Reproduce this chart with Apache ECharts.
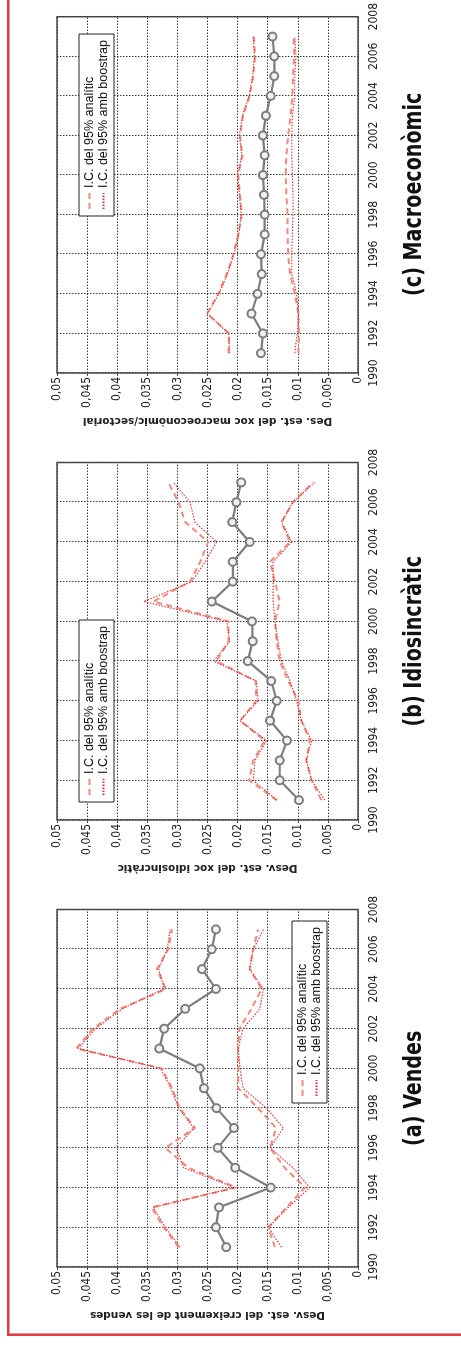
<!DOCTYPE html>
<html>
<head>
<meta charset="utf-8">
<script src="https://cdn.jsdelivr.net/npm/echarts@6/dist/echarts.min.js"></script>
<style>
  html, body { margin: 0; padding: 0; background: #fff; overflow: hidden; }
  #page { position: relative; width: 461px; height: 1345px; overflow: hidden; }
  /* the three panels are laid out in landscape and turned a quarter turn */
  #chart {
    position: absolute; left: 0; top: 0;
    width: 1345px; height: 461px;
    transform-origin: 0 0;
    transform: translateY(1345px) rotate(-90deg);
  }
</style>
</head>
<body>
<div id="page"><div id="chart"></div></div>
<script>
// years observed
const years = [1991, 1992, 1993, 1994, 1995, 1996, 1997, 1998, 1999, 2000, 2001, 2002, 2003, 2004, 2005, 2006, 2007];

// (a) Vendes
const vendesEst      = [0.0219, 0.0236, 0.0231, 0.0145, 0.0204, 0.0233, 0.0206, 0.0235, 0.0256, 0.0263, 0.0330, 0.0322, 0.0287, 0.0236, 0.0259, 0.0243, 0.0236];
const vendesAnalSup  = [0.0298, 0.0323, 0.0343, 0.0202, 0.0282, 0.0320, 0.0271, 0.0296, 0.0309, 0.0326, 0.0468, 0.0440, 0.0395, 0.0319, 0.0334, 0.0315, 0.0309];
const vendesAnalInf  = [0.0138, 0.0149, 0.0119, 0.0088, 0.0122, 0.0146, 0.0136, 0.0166, 0.0199, 0.0199, 0.0199, 0.0197, 0.0177, 0.0160, 0.0180, 0.0174, 0.0166];
const vendesBootSup  = [0.0296, 0.0320, 0.0340, 0.0205, 0.0290, 0.0302, 0.0273, 0.0298, 0.0311, 0.0328, 0.0465, 0.0436, 0.0392, 0.0322, 0.0331, 0.0317, 0.0312];
const vendesBootInf  = [0.0127, 0.0149, 0.0116, 0.0080, 0.0108, 0.0146, 0.0124, 0.0152, 0.0191, 0.0196, 0.0199, 0.0191, 0.0163, 0.0157, 0.0180, 0.0174, 0.0157];

// (b) Idiosincràtic
const idioEst        = [0.0098, 0.0130, 0.0130, 0.0118, 0.0146, 0.0135, 0.0144, 0.0183, 0.0175, 0.0176, 0.0243, 0.0208, 0.0208, 0.0180, 0.0209, 0.0202, 0.0194];
const idioAnalSup    = [0.0135, 0.0181, 0.0174, 0.0155, 0.0196, 0.0169, 0.0170, 0.0235, 0.0215, 0.0215, 0.0340, 0.0279, 0.0262, 0.0249, 0.0287, 0.0298, 0.0315];
const idioAnalInf    = [0.0061, 0.0077, 0.0086, 0.0080, 0.0094, 0.0099, 0.0116, 0.0130, 0.0135, 0.0138, 0.0130, 0.0138, 0.0146, 0.0113, 0.0127, 0.0108, 0.0075];
const idioBootSup    = [0.0135, 0.0174, 0.0171, 0.0152, 0.0196, 0.0166, 0.0169, 0.0240, 0.0213, 0.0218, 0.0356, 0.0276, 0.0254, 0.0235, 0.0271, 0.0279, 0.0307];
const idioBootInf    = [0.0055, 0.0077, 0.0086, 0.0077, 0.0094, 0.0102, 0.0113, 0.0127, 0.0133, 0.0138, 0.0141, 0.0141, 0.0141, 0.0110, 0.0127, 0.0108, 0.0072];

// (c) Macroeconòmic
const macroEst       = [0.0161, 0.0158, 0.0177, 0.0167, 0.0160, 0.0161, 0.0155, 0.0155, 0.0156, 0.0158, 0.0155, 0.0158, 0.0153, 0.0145, 0.0139, 0.0139, 0.0142];
const macroAnalSup   = [0.0215, 0.0214, 0.0251, 0.0232, 0.0218, 0.0207, 0.0199, 0.0193, 0.0196, 0.0199, 0.0192, 0.0196, 0.0191, 0.0180, 0.0174, 0.0171, 0.0173];
const macroAnalInf   = [0.0099, 0.0098, 0.0099, 0.0105, 0.0113, 0.0116, 0.0117, 0.0117, 0.0119, 0.0120, 0.0119, 0.0116, 0.0112, 0.0109, 0.0108, 0.0106, 0.0107];
const macroBootSup   = [0.0213, 0.0215, 0.0250, 0.0231, 0.0217, 0.0206, 0.0198, 0.0194, 0.0197, 0.0200, 0.0193, 0.0197, 0.0192, 0.0181, 0.0175, 0.0172, 0.0174];
const macroBootInf   = [0.0105, 0.0101, 0.0099, 0.0102, 0.0110, 0.0110, 0.0109, 0.0108, 0.0108, 0.0109, 0.0110, 0.0110, 0.0109, 0.0105, 0.0105, 0.0103, 0.0105];

const nameAnal = 'I.C. del 95% analític';
const nameBoot = 'I.C. del 95% amb boostrap';

const panelTitles = ['(a) Vendes', '(b) Idiosincràtic', '(c) Macroeconòmic'];
const axisNames = [
  'Desv. est. del creixement de les vendes',
  'Desv. est. del xoc idiosincràtic',
  'Des. est. del xoc macroeconòmic/sectorial'
];

const panels = [
  { est: vendesEst, aS: vendesAnalSup, aI: vendesAnalInf, bS: vendesBootSup, bI: vendesBootInf },
  { est: idioEst,   aS: idioAnalSup,   aI: idioAnalInf,   bS: idioBootSup,   bI: idioBootInf },
  { est: macroEst,  aS: macroAnalSup,  aI: macroAnalInf,  bS: macroBootSup,  bI: macroBootInf }
];

const gridLefts = [78, 525, 972];
const gridW = 357.5, gridTop = 57, gridH = 301;

const tickFont = "'Liberation Sans Narrow', 'DejaVu Sans Condensed', sans-serif";
const gridLine = { show: true, lineStyle: { color: '#3a3a3a', type: [1.5, 1.5], width: 1 } };

const pairs = arr => years.map((y, i) => [y, arr[i]]);

const grids = [], xAxes = [], yAxes = [], series = [], legends = [], graphics = [];

const dashStyle = { color: '#f08a7c', width: 2, type: [6, 4] };
const dotStyle  = { color: '#e52a33', width: 1.1, type: [1.5, 1.5] };

panels.forEach((p, k) => {
  grids.push({
    left: gridLefts[k], top: gridTop, width: gridW, height: gridH,
    show: true, borderColor: '#4a4a4a', borderWidth: 1.5, backgroundColor: 'transparent'
  });
  xAxes.push({
    type: 'value', gridIndex: k, min: 1990, max: 2008, interval: 2,
    axisLine: { show: false },
    axisTick: { show: false },
    axisLabel: { fontFamily: tickFont, fontSize: 12, color: '#222', margin: 10, formatter: v => String(v) },
    splitLine: gridLine
  });
  yAxes.push({
    type: 'value', gridIndex: k, min: 0, max: 0.05, interval: 0.005,
    name: axisNames[k], nameLocation: 'middle', nameGap: 42, nameRotate: 90,
    nameTextStyle: { fontFamily: "'DejaVu Sans', sans-serif", fontWeight: 'bold', fontSize: 10.5, color: '#222' },
    axisLine: { show: false },
    axisTick: { show: true, length: 3, inside: false, lineStyle: { color: '#4a4a4a' } },
    axisLabel: {
      fontFamily: tickFont, fontSize: 12, color: '#222', margin: 4,
      formatter: v => (v === 0 ? '0' : parseFloat(v.toFixed(3)).toString().replace('.', ','))
    },
    splitLine: gridLine
  });

  const common = { type: 'line', xAxisIndex: k, yAxisIndex: k, symbol: 'none', silent: true, z: 2 };

  series.push({ ...common, name: nameAnal, data: pairs(p.aS), lineStyle: dashStyle, itemStyle: { color: '#f08a7c' } });
  series.push({ ...common, name: nameAnal, data: pairs(p.aI), lineStyle: dashStyle, itemStyle: { color: '#f08a7c' } });
  series.push({ ...common, name: nameBoot, data: pairs(p.bS), lineStyle: dotStyle, itemStyle: { color: '#e52a33' } });
  series.push({ ...common, name: nameBoot, data: pairs(p.bI), lineStyle: dotStyle, itemStyle: { color: '#e52a33' } });
  series.push({
    type: 'line', name: 'est', xAxisIndex: k, yAxisIndex: k, data: pairs(p.est),
    symbol: 'circle', symbolSize: 8, z: 3,
    lineStyle: { color: '#7d7d7d', width: 2.2 },
    itemStyle: { color: '#f2f2f2', borderColor: '#7d7d7d', borderWidth: 2 }
  });

  // panel caption, narrowed to a condensed look
  graphics.push({
    type: 'text', x: gridLefts[k] + gridW / 2, y: 414, scaleX: 0.85,
    style: {
      text: panelTitles[k], fill: '#111',
      font: "bold 25px 'Liberation Sans Narrow', 'DejaVu Sans Condensed', sans-serif",
      textAlign: 'center', textVerticalAlign: 'middle'
    }
  });
});

// legend boxes: a plain line sample per interval type
const legendPos = [
  { left: 242, top: 292 },
  { left: 543, top: 79 },
  { left: 1129, top: 79 }
];
legendPos.forEach(pos => {
  legends.push({
    data: [nameAnal, nameBoot],
    orient: 'vertical', left: pos.left, top: pos.top,
    width: 187, padding: [4, 6, 4, 6], itemGap: 1,
    itemWidth: 16, itemHeight: 12,
    itemStyle: { opacity: 0 },
    backgroundColor: '#fff', borderColor: '#222', borderWidth: 1,
    textStyle: { fontFamily: "'Liberation Sans', Arial, sans-serif", fontSize: 12.5, color: '#111' },
    selectedMode: false
  });
});

// red frame around the figure
graphics.push({ type: 'line', shape: { x1: 9, y1: 8.3, x2: 1345, y2: 8.3 }, style: { stroke: '#e03a40', lineWidth: 2.5 } });
graphics.push({ type: 'line', shape: { x1: 10.3, y1: 7, x2: 10.3, y2: 461 }, style: { stroke: '#e03a40', lineWidth: 2.5 } });

const chart = echarts.init(document.getElementById('chart'), null, { renderer: 'canvas', width: 1345, height: 461 });
chart.setOption({
  animation: false,
  backgroundColor: '#fff',
  grid: grids,
  xAxis: xAxes,
  yAxis: yAxes,
  legend: legends,
  series: series,
  graphic: graphics
});
</script>
</body>
</html>
